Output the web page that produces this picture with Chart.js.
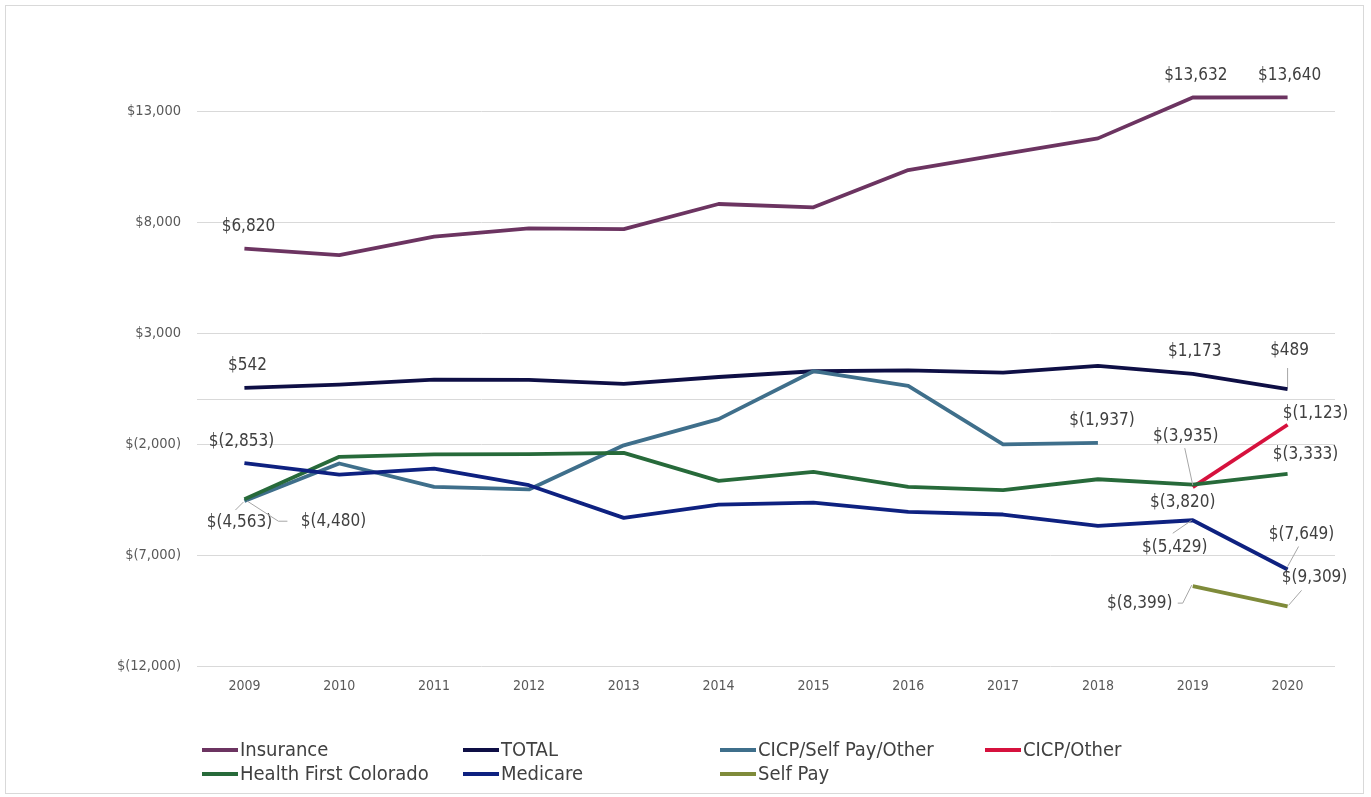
<!DOCTYPE html>
<html><head><meta charset="utf-8">
<script src="https://cdn.jsdelivr.net/npm/chart.js@4.4.1/dist/chart.umd.min.js"></script>
<style>
html,body{margin:0;padding:0;background:#fff;}
#wrap{position:relative;width:1371px;height:797px;overflow:hidden;}
#frame{position:absolute;left:5px;top:5px;width:1359px;height:789px;border:1px solid #d9d9d9;box-sizing:border-box;pointer-events:none;}
canvas{position:absolute;left:0;top:0;}
.lg{position:absolute;font-family:'DejaVu Sans Condensed','DejaVu Sans',sans-serif;font-size:20px;color:#404040;line-height:22px;white-space:nowrap;}
.lg .m{display:inline-block;width:36px;height:4px;vertical-align:middle;margin-right:2px;position:relative;top:-1px;}
</style>
</head><body>
<div id="wrap">
<canvas id="c" width="1371" height="797"></canvas>
<div id="frame"></div>
<div id="legend"></div>
</div>
<script>
const years = ['2009','2010','2011','2012','2013','2014','2015','2016','2017','2018','2019','2020'];
const insurance = [6820, 6530, 7360, 7730, 7700, 8830, 8680, 10360, 11080, 11790, 13632, 13640];
const total = [542, 690, 910, 900, 720, 1030, 1290, 1330, 1230, 1530, 1173, 489];
const cicpSelfPayOther = [-4563, -2870, -3920, -4040, -2050, -870, 1290, 630, -2010, -1937, null, null];
const cicpOther = [null, null, null, null, null, null, null, null, null, null, -3935, -1123];
const healthFirstColorado = [-4480, -2570, -2460, -2450, -2390, -3650, -3250, -3920, -4070, -3580, -3820, -3333];
const medicare = [-2853, -3370, -3100, -3850, -5320, -4720, -4630, -5050, -5170, -5680, -5429, -7649];
const selfPay = [null, null, null, null, null, null, null, null, null, null, -8399, -9309];
const yTicks = [-12000, -7000, -2000, 0, 3000, 8000, 13000];

const seriesNames = ['Insurance','TOTAL','CICP/Self Pay/Other','CICP/Other','Health First Colorado','Medicare','Self Pay'];
const seriesData = [insurance, total, cicpSelfPayOther, cicpOther, healthFirstColorado, medicare, selfPay];
const seriesColors = ['#6C3461','#0E0F45','#3F6F8B','#D6113D','#276A3A','#0E2180','#7F8B3A'];

// label placements: [datasetIndex, dataIndex, dx, dy, leader offsets]
const labelPlacements = [
  [0,0,4,-22,null],[0,10,3,-22,null],[0,11,2,-22,null],
  [1,0,3,-22,null],[1,10,2,-22,null],[1,11,2,-38,[[0,-21],[0,-2]]],
  [2,9,4,-22,null],[2,0,-5,22,[[-9,9],[-1,1]]],
  [4,0,89,22,[[43,22],[34,22],[3,2]]],
  [5,0,-3,-22,null],
  [3,10,-7,-51,[[-8,-39],[0,-2]]],[3,11,28,-11,null],
  [4,10,-10,18,null],[4,11,18,-19,null],
  [5,10,-18,27,[[-20,13],[-1,0]]],[5,11,14,-35,[[11,-23],[0,-3]]],
  [6,11,27,-29,[[14,-16],[1,-1]]],[6,10,-53,17,[[-15,17],[-10,17],[-1,-1]]]
];

function fmt(v){
  const a = Math.abs(v).toLocaleString('en-US');
  return v < 0 ? '$(' + a + ')' : '$' + a;
}
const FONT = "'DejaVu Sans Condensed','DejaVu Sans',sans-serif";

const labelPlugin = {
  id: 'dlabels',
  afterDatasetsDraw(chart){
    const ctx = chart.ctx;
    ctx.save();
    labelPlacements.forEach(([di, i, dx, dy, lead]) => {
      const pt = chart.getDatasetMeta(di).data[i];
      const x = pt.x, y = pt.y;
      if (lead){
        ctx.beginPath();
        ctx.strokeStyle = '#a6a6a6';
        ctx.lineWidth = 1;
        lead.forEach((p, k) => { if (k === 0) ctx.moveTo(x + p[0], y + p[1]); else ctx.lineTo(x + p[0], y + p[1]); });
        ctx.stroke();
      }
      ctx.fillStyle = '#404040';
      ctx.font = '17px ' + FONT;
      ctx.textAlign = 'center';
      ctx.textBaseline = 'middle';
      ctx.fillText(fmt(seriesData[di][i]), x + dx, y + dy);
    });
    ctx.restore();
  }
};

const datasets = seriesNames.map((n, k) => ({
  label: n,
  data: seriesData[k],
  borderColor: seriesColors[k],
  backgroundColor: seriesColors[k],
  borderWidth: 3.8,
  pointRadius: 0,
  tension: 0,
  spanGaps: false,
  borderJoinStyle: 'round',
  order: 7 - k
}));

new Chart(document.getElementById('c'), {
  type: 'line',
  data: { labels: years, datasets },
  options: {
    responsive: false,
    animation: false,
    layout: { padding: { left: 0, right: 36, top: 45, bottom: 0 } },
    plugins: { legend: { display: false }, tooltip: { enabled: false } },
    scales: {
      x: {
        offset: true,
        grid: { display: false, drawTicks: false },
        border: { display: false },
        ticks: { color: '#595959', font: { family: FONT, size: 14 }, padding: 12, maxRotation: 0 },
        afterFit(axis){ axis.height = 131; }
      },
      y: {
        min: -12000, max: 16000,
        afterBuildTicks(axis){ axis.ticks = yTicks.map(v => ({ value: v })); },
        afterFit(axis){ axis.width = 197; },
        grid: { color: '#d9d9d9', lineWidth: 1, drawTicks: false },
        border: { display: false },
        ticks: { color: '#595959', font: { family: FONT, size: 14.5 }, padding: 16,
          callback: v => v === 0 ? '' : fmt(v) }
      }
    }
  },
  plugins: [labelPlugin]
});

// legend
const legendPos = [[202,749],[463,749],[720,749],[985,749],[202,773],[463,773],[720,773]];
const lg = document.getElementById('legend');
seriesNames.forEach((n, k) => {
  const d = document.createElement('div');
  d.className = 'lg';
  d.style.left = legendPos[k][0] + 'px';
  d.style.top = (legendPos[k][1] - 11) + 'px';
  const m = document.createElement('span');
  m.className = 'm';
  m.style.background = seriesColors[k];
  d.appendChild(m);
  d.appendChild(document.createTextNode(n));
  lg.appendChild(d);
});
</script>
</body></html>
